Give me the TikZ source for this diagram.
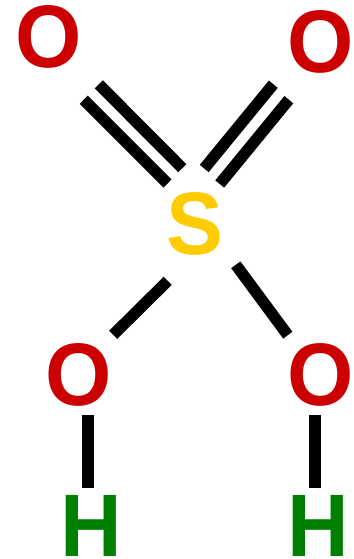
\documentclass[tikz,border=0pt]{standalone}
\usepackage{fontspec}
\setmainfont{Liberation Sans}
\newcommand{\AtomText}[1]{\scalebox{1}[1.04]{#1}}
\tikzset{
  atom/.style = {inner sep = 0pt, font = \fontsize{64}{64}\selectfont\bfseries},
  bond/.style = {line width = 8.6pt, line cap = butt}
}
\definecolor{oxy}{HTML}{CC0000}
\definecolor{sul}{HTML}{FFCC00}
\definecolor{hyd}{HTML}{008000}

\begin{document}
\begin{tikzpicture}[x = 0.75pt, y = -0.75pt]
  \useasboundingbox (0, 0) rectangle (353, 559);

  \node[atom, text = oxy] (O1) at (48.5, 37) {\AtomText{O}};
  \node[atom, text = oxy] (O2) at (320.5, 42) {\AtomText{O}};
  \node[atom, text = sul] (S) at (195, 224) {\AtomText{S}};
  \node[atom, text = oxy] (O3) at (78.5, 375) {\AtomText{O}};
  \node[atom, text = oxy] (O4) at (320.5, 375) {\AtomText{O}};
  \node[atom, text = hyd] (H1) at (91, 526) {\AtomText{H}};
  \node[atom, text = hyd] (H2) at (318, 526) {\AtomText{H}};

  % bond ends, the bonds do not point at the atom centres
  \coordinate (O1a) at (98.8, 84.3);
  \coordinate (S1a) at (182.3, 168.2);
  \coordinate (O1b) at (83.7, 99.8);
  \coordinate (S1b) at (167.5, 183.5);
  \coordinate (O2a) at (273.3, 84.2);
  \coordinate (S2a) at (204.2, 168.5);
  \coordinate (O2b) at (288.8, 99.7);
  \coordinate (S2b) at (219.7, 184);
  \coordinate (O3b) at (113.2, 334.8);
  \coordinate (S3b) at (167.7, 280.8);
  \coordinate (O4b) at (287.8, 335.2);
  \coordinate (S4b) at (235.8, 264.8);
  \coordinate (O5b) at (88.2, 415);
  \coordinate (H1b) at (88.2, 487.7);
  \coordinate (O6b) at (314.8, 415);
  \coordinate (H2b) at (314.8, 487.7);

  \foreach \a/\b in {O1a/S1a, O1b/S1b, O2a/S2a, O2b/S2b, O3b/S3b, O4b/S4b, O5b/H1b, O6b/H2b}{
    \draw[bond] (\a) -- (\b);
  }
\end{tikzpicture}
\end{document}
